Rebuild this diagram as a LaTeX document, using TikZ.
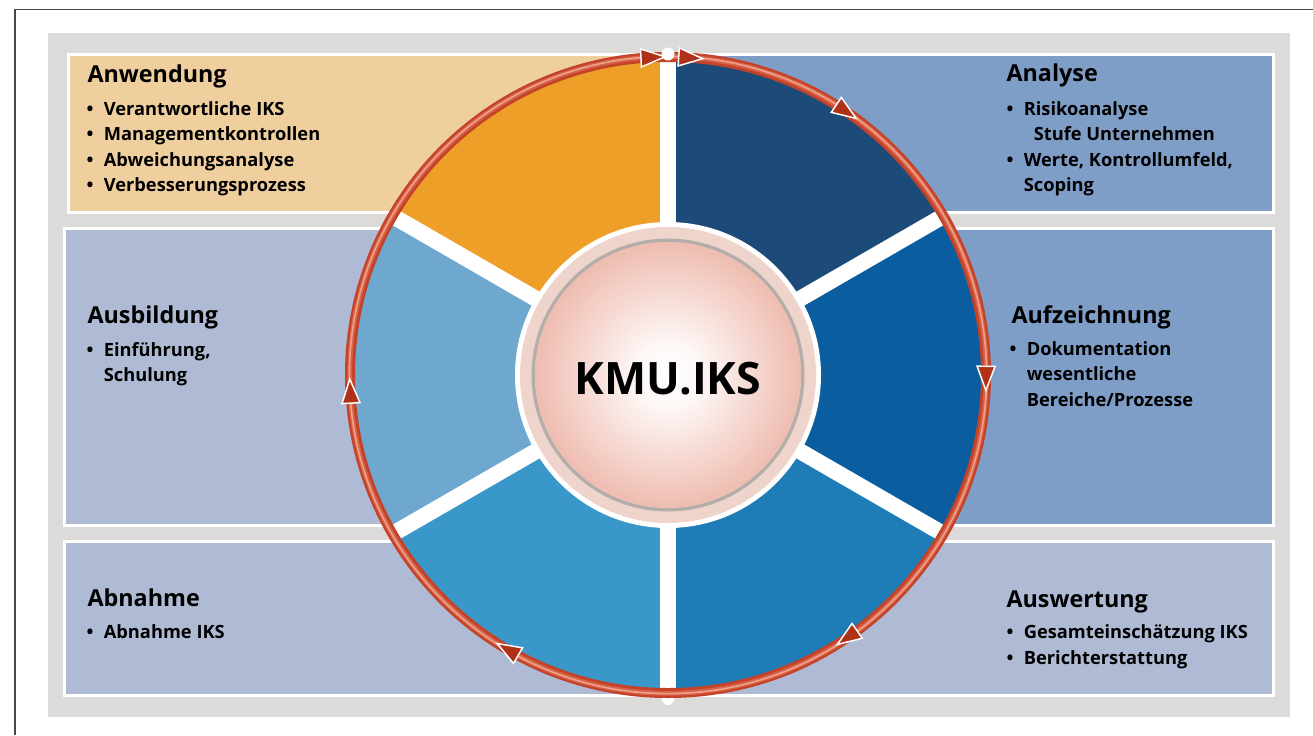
\documentclass[tikz,border=0pt]{standalone}
\usepackage{fontspec}
\setmainfont{Open Sans}

\tikzset{every picture/.style={line width=0.75pt}}

\definecolor{bggray}{RGB}{220,219,217}
\definecolor{boxorange}{RGB}{240,207,158}
\definecolor{boxblue}{RGB}{127,158,199}
\definecolor{boxgrey}{RGB}{175,187,212}
\definecolor{ringred}{RGB}{196,66,40}
\definecolor{ringlight}{RGB}{242,160,136}
\definecolor{tipred}{RGB}{174,49,24}
\definecolor{kmupink}{RGB}{232,160,143}
\pgfdeclareradialshading{kmuglow}{\pgfpoint{0bp}{0bp}}{color(0bp)=(white); color(6bp)=(white!92!kmupink); color(34bp)=(kmupink); color(50bp)=(kmupink)}

\tikzset{
  phasebox/.style={draw=white, line width=2.25pt},
  hdr/.style={anchor=base west, inner sep=0pt, font=\fontsize{17.5}{20}\selectfont\bfseries},
  items/.style={anchor=north west, inner sep=0pt, align=left, font=\fontsize{13.7}{19.1}\selectfont\bfseries},
  ringtip/.style={fill=tipred, draw=white, line width=1.1pt, line join=miter},
}
% first line carries a strut: node top = baseline - 17.8
\newcommand{\blt}{\makebox[13pt][l]{\textbullet}}
\newcommand{\ind}{\hspace*{13pt}}

\begin{document}
\begin{tikzpicture}[x=0.75pt,y=0.75pt,yscale=-1,xscale=1]
\useasboundingbox (0,0) rectangle (1313,735);
\fill[white] (0,0) rectangle (1313,735);

%Shape: Frame
\draw[color={rgb, 255:red, 70; green, 70; blue, 70}, line width=1.1pt] (15,735) -- (15,9.5) -- (1313,9.5);
%Shape: Background
\fill[bggray] (48,33) rectangle (1290,717);

%Shape: Phase boxes
\draw[phasebox, fill=boxorange] (68.5,55) rectangle (668,212.5);
\draw[phasebox, fill=boxblue] (668,55) rectangle (1273.5,212.5);
\draw[phasebox, fill=boxgrey] (64.5,228) rectangle (668,525.5);
\draw[phasebox, fill=boxblue] (668,228) rectangle (1273.5,525.5);
\draw[phasebox, fill=boxgrey] (64.5,541.5) rectangle (668,695.5);
\draw[phasebox, fill=boxgrey] (668,541.5) rectangle (1273.5,695.5);

%Shape: Wheel
\begin{scope}[shift={(668,375)}, yscale=-1]
\fill[color={rgb, 255:red, 29; green, 75; blue, 121}] (0,0) -- (30:318) arc[start angle=30, end angle=90, radius=318] -- cycle;
\fill[color={rgb, 255:red, 10; green, 94; blue, 160}] (0,0) -- (-30:318) arc[start angle=-30, end angle=30, radius=318] -- cycle;
\fill[color={rgb, 255:red, 30; green, 124; blue, 182}] (0,0) -- (-90:318) arc[start angle=-90, end angle=-30, radius=318] -- cycle;
\fill[color={rgb, 255:red, 58; green, 151; blue, 201}] (0,0) -- (210:318) arc[start angle=210, end angle=270, radius=318] -- cycle;
\fill[color={rgb, 255:red, 111; green, 168; blue, 207}] (0,0) -- (150:318) arc[start angle=150, end angle=210, radius=318] -- cycle;
\fill[color={rgb, 255:red, 238; green, 159; blue, 40}] (0,0) -- (90:318) arc[start angle=90, end angle=150, radius=318] -- cycle;
\foreach \a in {90,30,-30,-90,210,150}
  \draw[white, line width=12pt] (0,0) -- (\a:322);
\fill[white] (-90:324) circle (6);

%Shape: Ring
\draw[ringred, line width=7.5pt] (0,0) circle (318);
\draw[color=ringred!65!ringlight, line width=3.6pt] (0,0) circle (318.3);
\draw[ringlight, line width=1.2pt] (0,0) circle (318.6);
\fill[white] (90:321) circle (6.5);
\foreach \a in {92.8,86,56,-0.5,-55.6,239.8,183}
  \draw[ringtip, shift={(\a:318)}, rotate=\a-90] (12.5,0) -- (-11.5,9) -- (-11.5,-9) -- cycle;

%Shape: Hub
\fill[white] (0,0) circle (153);
\fill[color={rgb, 255:red, 238; green, 212; blue, 202}] (0,0) circle (148);
\draw[color={rgb, 255:red, 180; green, 174; blue, 171}, line width=2.6pt] (0,0) circle (134.7);
\shade[shading=kmuglow] (0,0) circle (133);
\end{scope}

% Text Node
\draw (668,379) node (kmu) [inner sep=0pt, font=\fontsize{33.5}{38}\selectfont\bfseries] {KMU.IKS};

% Text Node
\draw (87,83) node (anwendung) [hdr] {Anwendung};
\draw (86,97.2) node (anwendungliste) [items] {\strut\blt Verantwortliche IKS\\\blt Managementkontrollen\\\blt Abweichungsanalyse\\\blt Verbesserungsprozess};
% Text Node
\draw (1006,82) node (analyse) [hdr] {Analyse};
\draw (1006,97.2) node (analyseliste) [items] {\strut\blt Risikoanalyse\\\ind\hspace*{7.5pt}Stufe Unternehmen\\\blt Werte, Kontrollumfeld,\\\ind Scoping};
% Text Node
\draw (87,323) node (ausbildung) [hdr] {Ausbildung};
\draw (86,338.2) node (ausbildungliste) [items] {\strut\blt Einführung,\\\ind Schulung};
% Text Node
\draw (1011,323) node (aufzeichnung) [hdr] {Aufzeichnung};
\draw (1009,337.2) node (aufzeichnungliste) [items] {\strut\blt Dokumentation\\\ind wesentliche\\\ind Bereiche/Prozesse};
% Text Node
\draw (87,606) node (abnahme) [hdr] {Abnahme};
\draw (86,620.2) node (abnahmeliste) [items] {\strut\blt Abnahme IKS};
% Text Node
\draw (1006,607) node (auswertung) [hdr] {Auswertung};
\draw (1006,620.2) node (auswertungliste) [items] {\strut\blt Gesamteinschätzung IKS\\\blt Berichterstattung};

\end{tikzpicture}
\end{document}
